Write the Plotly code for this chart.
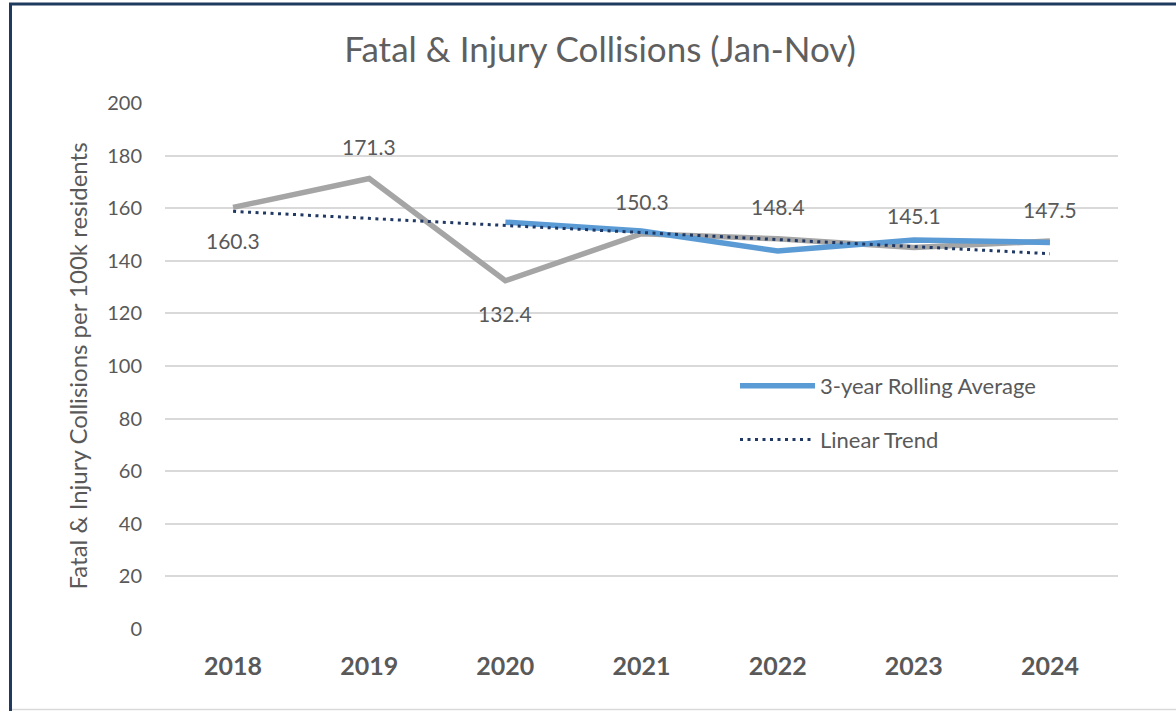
import plotly.graph_objects as go

years = ["2018", "2019", "2020", "2021", "2022", "2023", "2024"]
collisions = [160.3, 171.3, 132.4, 150.3, 148.4, 145.1, 147.5]
rolling_years = ["2020", "2021", "2022", "2023", "2024"]
rolling_avg = [154.7, 151.3, 143.7, 147.9, 147.0]
trend = [158.8, 156.1, 153.4, 150.8, 148.1, 145.4, 142.7]
label_above = [False, True, False, True, True, True, True]

W, H = 1176, 711
ML, MR, MT, MB = 165, 58, 103, 82
PW, PH = W - ML - MR, H - MT - MB

FONT = "Lato"
TXT = "#595959"

fig = go.Figure()
fig.add_trace(go.Scatter(x=years, y=collisions, mode="lines",
                         line=dict(color="#A5A5A5", width=5.5),
                         showlegend=False, hoverinfo="x+y"))
fig.add_trace(go.Scatter(x=rolling_years, y=rolling_avg, mode="lines",
                         name="3-year Rolling Average",
                         line=dict(color="#5B9BD5", width=5.5),
                         legendgroup="a"))
fig.add_trace(go.Scatter(x=years, y=trend, mode="lines",
                         name="Linear Trend",
                         line=dict(color="#203864", width=3, dash="3px,4.5px"),
                         legendgroup="b"))

for i, (yv, up) in enumerate(zip(collisions, label_above)):
    fig.add_annotation(x=i, y=yv, xref="x", yref="y", text=f"{yv:.1f}",
                       showarrow=False, yshift=32 if up else -33,
                       font=dict(family=FONT, size=21, color=TXT))

def px_x(p):
    return (p - ML) / PW

def px_y(p):
    return 1 - (p - MT) / PH

shapes = [
    dict(type="line", xref="paper", yref="paper", x0=px_x(10.5), x1=px_x(10.5),
         y0=px_y(3), y1=px_y(711), line=dict(color="#1F3A5F", width=3)),
    dict(type="line", xref="paper", yref="paper", x0=px_x(9), x1=px_x(1176),
         y0=px_y(4), y1=px_y(4), line=dict(color="#1F3A5F", width=3)),
    dict(type="line", xref="paper", yref="paper", x0=px_x(12), x1=px_x(1176),
         y0=px_y(709.5), y1=px_y(709.5), line=dict(color="#D9D9D9", width=1.5)),
]

fig.update_layout(
    width=W, height=H,
    margin=dict(l=ML, r=MR, t=MT, b=MB),
    paper_bgcolor="white", plot_bgcolor="white",
    font=dict(family=FONT, color=TXT),
    title=dict(text="Fatal & Injury Collisions (Jan-Nov)", x=600 / W, xref="container",
               xanchor="center", y=1 - 50 / H, yref="container", yanchor="middle",
               font=dict(family=FONT, size=35, color="#5F5F5F")),
    xaxis=dict(type="category", range=[-0.5, 6.5], showgrid=False, zeroline=False,
               showline=False, ticks="", ticklabelstandoff=20,
               tickfont=dict(family=FONT, size=25, color=TXT, weight="bold")),
    yaxis=dict(range=[0, 200], dtick=20, showgrid=True, gridcolor="#D9D9D9",
               gridwidth=2, zeroline=False, showline=False, ticks="",
               ticklabelstandoff=22,
               tickfont=dict(family=FONT, size=20, color=TXT),
               title=dict(text="Fatal & Injury Collisions per 100k residents",
                          font=dict(family=FONT, size=24, color=TXT), standoff=12)),
    legend=dict(x=px_x(735), y=px_y(365), xanchor="left", yanchor="top",
                bgcolor="rgba(0,0,0,0)", itemwidth=75, tracegroupgap=22,
                traceorder="grouped",
                font=dict(family=FONT, size=22, color=TXT)),
    shapes=shapes,
    showlegend=True,
)

fig.write_html("out.html", config={"displayModeBar": False},
               post_script="document.body.style.margin='0';")
